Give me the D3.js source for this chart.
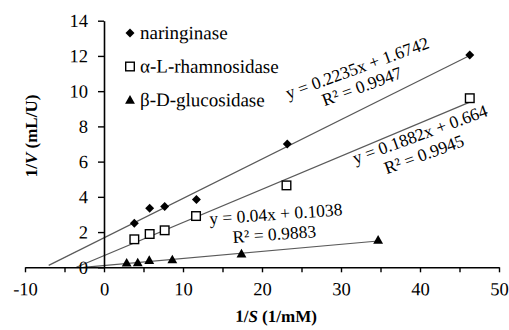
<!DOCTYPE html>
<html>
<head>
<meta charset="utf-8">
<script src="https://cdn.jsdelivr.net/npm/d3@7"></script>
<style>
  body { margin: 0; background: #fff; }
  svg { display: block; }
  svg text { font-family: "Liberation Serif", "Times New Roman", serif; }
</style>
</head>
<body>
<div id="chart"></div>
<script>
// substrate concentration reciprocal (1/S) for each enzyme
const naringinaseX = [3.84, 5.78, 7.68, 11.7, 23.2, 46.3];
const naringinaseY = [2.5, 3.35, 3.45, 3.85, 7.0, 12.05];
const rhamnosidaseX = [3.84, 5.78, 7.68, 11.65, 23.1, 46.3];
const rhamnosidaseY = [1.59, 1.89, 2.1, 2.91, 4.65, 9.6];
const glucosidaseX = [2.87, 4.27, 5.73, 8.65, 17.4, 34.7];
const glucosidaseY = [0.25, 0.27, 0.4, 0.43, 0.77, 1.55];

const seriesNames = ['naringinase', 'α-L-rhamnosidase', 'β-D-glucosidase'];
const slopes = [0.2235, 0.1882, 0.04];
const intercepts = [1.6742, 0.664, 0.1038];
const trendFrom = [-7.0, -3.5, -2.6];
const eqLabels = ['y = 0.2235x + 1.6742', 'y = 0.1882x + 0.664', 'y = 0.04x + 0.1038'];
const r2Labels = ['R² = 0.9947', 'R² = 0.9945', 'R² = 0.9883'];

const xTicks = [-10, -5, 0, 5, 10, 15, 20, 25, 30, 35, 40, 45, 50];
const yTicks = [0, 2, 4, 6, 8, 10, 12, 14];

const width = 509, height = 330;
// horizontal serif text came out as a sans face here; a tiny tilt keeps the serif outlines
const tilt = 0.2;

const svg = d3.select('#chart').append('svg')
    .attr('width', width)
    .attr('height', height);

const x = d3.scaleLinear().domain([-10, 50]).range([25, 499]);
const y = d3.scaleLinear().domain([0, 14]).range([267.3, 20.7]);

// trendlines
const series = [
    { xs: naringinaseX, ys: naringinaseY, shape: 'diamond' },
    { xs: rhamnosidaseX, ys: rhamnosidaseY, shape: 'square' },
    { xs: glucosidaseX, ys: glucosidaseY, shape: 'triangle' },
];

series.forEach((s, i) => {
    const x0 = trendFrom[i], x1 = d3.max(s.xs);
    svg.append('line')
        .attr('x1', x(x0)).attr('y1', y(slopes[i] * x0 + intercepts[i]))
        .attr('x2', x(x1)).attr('y2', y(slopes[i] * x1 + intercepts[i]))
        .attr('stroke', '#5a5a5a')
        .attr('stroke-width', 1.2);
});

// axes
const xAxis = svg.append('g')
    .attr('transform', `translate(0,${y(0)})`)
    .call(d3.axisBottom(x).tickValues(xTicks).tickSize(5).tickSizeOuter(0)
        .tickFormat(d => d % 10 === 0 ? d : ''));
const yAxis = svg.append('g')
    .attr('transform', `translate(${x(0)},0)`)
    .call(d3.axisLeft(y).tickValues(yTicks).tickSize(6).tickSizeOuter(0));

[xAxis, yAxis].forEach(g => {
    g.attr('font-family', null).attr('font-size', null);
    g.select('.domain').attr('stroke', '#000').attr('stroke-width', 1.6);
    g.selectAll('.tick line').attr('stroke', '#000').attr('stroke-width', 1.4);
    g.selectAll('.tick text')
        .attr('font-size', 18.5)
        .attr('fill', '#000');
});
xAxis.selectAll('.tick text').attr('dy', null).attr('y', null)
    .attr('transform', `translate(0,28) rotate(${tilt})`);
yAxis.selectAll('.tick text').attr('x', null)
    .attr('transform', `translate(-16,0) rotate(${tilt})`);

// markers
function marker(g, shape) {
    if (shape === 'diamond') {
        g.append('path').attr('d', d3.symbol().type(d3.symbolSquare).size(40)())
            .attr('transform', 'rotate(45)').attr('fill', '#000');
    } else if (shape === 'square') {
        g.append('rect').attr('x', -4.3).attr('y', -4.3).attr('width', 8.6).attr('height', 8.6)
            .attr('fill', '#fff').attr('stroke', '#000').attr('stroke-width', 1.4);
    } else {
        g.append('path').attr('d', d3.symbol().type(d3.symbolTriangle).size(42)())
            .attr('transform', 'translate(0,0.8)').attr('fill', '#000');
    }
}

series.forEach(s => {
    s.xs.forEach((xv, j) => {
        const g = svg.append('g').attr('transform', `translate(${x(xv)},${y(s.ys[j])})`);
        marker(g, s.shape);
    });
});

// trendline labels
const eqPos = [[32.3, 11.0, -20], [40.25, 7.23, -20], [21.8, 2.69, -4]];
const r2Pos = [[32.9, 9.96, -20], [40.76, 6.1, -20], [21.6, 1.55, -4]];
eqLabels.forEach((t, i) => {
    const p = eqPos[i], q = r2Pos[i];
    svg.append('text')
        .attr('transform', `translate(${x(p[0])},${y(p[1])}) rotate(${p[2]})`)
        .attr('text-anchor', 'middle').attr('font-size', 17.5).text(t);
    svg.append('text')
        .attr('transform', `translate(${x(q[0])},${y(q[1])}) rotate(${q[2]})`)
        .attr('text-anchor', 'middle').attr('font-size', 17.5).text(r2Labels[i]);
});

// legend
const legend = svg.append('g');
seriesNames.forEach((name, i) => {
    const ly = 33 + i * 33.5;
    const g = legend.append('g').attr('transform', `translate(130,${ly})`);
    marker(g, series[i].shape);
    legend.append('text')
        .attr('transform', `translate(140,${ly + 6}) rotate(${tilt})`)
        .attr('font-size', 19).text(name);
});

// axis titles
const xt = svg.append('text').attr('transform', `translate(276,322) rotate(${tilt})`)
    .attr('text-anchor', 'middle').attr('font-size', 17).attr('font-weight', 'bold');
xt.append('tspan').text('1/');
xt.append('tspan').attr('font-style', 'italic').text('S');
xt.append('tspan').text(' (1/mM)');

const yt = svg.append('text').attr('transform', 'translate(37,136) rotate(-90)')
    .attr('text-anchor', 'middle').attr('font-size', 17).attr('font-weight', 'bold');
yt.append('tspan').text('1/');
yt.append('tspan').attr('font-style', 'italic').text('V');
yt.append('tspan').text(' (mL/U)');
</script>
</body>
</html>
